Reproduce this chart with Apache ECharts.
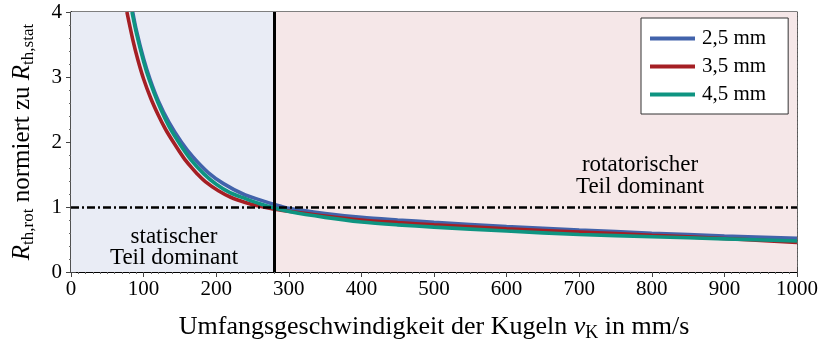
<!DOCTYPE html>
<html>
<head>
<meta charset="utf-8">
<script src="https://cdn.jsdelivr.net/npm/echarts@6/dist/echarts.min.js"></script>
<style>html,body{margin:0;padding:0;background:#fff;}#c{width:822px;height:340px;}</style>
</head>
<body>
<div id="c"></div>
<script>
// ---- data ----
const xTicks = [0,100,200,300,400,500,600,700,800,900,1000];
const yTicks = [0,1,2,3,4];
const seriesNames = ['2,5 mm','3,5 mm','4,5 mm'];
const blueX = [85,90,100,109,120,135,152,168,189,210,237,260,280,300,350,400,450,500,600,700,800,900,1000];
const blueY = [4.0,3.72,3.28,2.96,2.64,2.3,2.0,1.77,1.53,1.36,1.2,1.11,1.04,0.98,0.9,0.84,0.8,0.765,0.70,0.646,0.597,0.555,0.518];
const redX  = [77,85,92,100,110,120,130,142,155,165,173,185,203,220,240,260,280,300,350,400,450,500,600,700,800,900,1000];
const redY  = [4.0,3.58,3.27,2.97,2.67,2.42,2.2,1.98,1.76,1.62,1.52,1.39,1.25,1.15,1.07,1.01,0.965,0.935,0.86,0.80,0.76,0.725,0.665,0.615,0.565,0.515,0.455];
const greenX = [84,90,100,108,120,135,151,165,183,200,219,240,260,280,300,350,400,450,500,600,700,800,900,1000];
const greenY = [4.0,3.68,3.24,2.95,2.6,2.24,1.95,1.73,1.51,1.35,1.22,1.13,1.05,0.985,0.93,0.84,0.77,0.725,0.69,0.63,0.578,0.542,0.51,0.477];
const boundaryX = 280;
const refY = 1;
const leftText = 'statischer\nTeil dominant';
const rightText = 'rotatorischer\nTeil dominant';

const colors = ['#4263ab','#a51f24','#0e9481'];
const SERIF = '"Liberation Serif","DejaVu Serif",serif';

function pairs(xs, ys){ return xs.map((x,i)=>[x, ys[i]]); }

const chart = echarts.init(document.getElementById('c'), null, {renderer:'canvas'});
const gridLine = {show:true, lineStyle:{color:'#555', type:[1,3], width:1}};

const option = {
  animation:false,
  backgroundColor:'#fff',
  grid:{left:71, right:25, top:12, bottom:68, containLabel:false, outerBoundsMode:'none',
        show:true, borderColor:'#000', borderWidth:1.2, backgroundColor:'transparent'},
  legend:{
    data:seriesNames,
    orient:'vertical',
    left:641, top:18,
    backgroundColor:'#fff',
    borderColor:'#333', borderWidth:1,
    padding:[10,22,9,9],
    itemWidth:45, itemHeight:4, itemGap:7,
    icon:'rect',
    textStyle:{fontFamily:SERIF, fontSize:21, color:'#000', lineHeight:20, padding:[0,0,0,2]}
  },
  xAxis:[{
    type:'value', min:xTicks[0], max:xTicks[xTicks.length-1], interval:100,
    axisLine:{show:true, lineStyle:{color:'#000', width:1.2}},
    axisTick:{show:true, inside:true, length:5, lineStyle:{color:'#444'}},
    minorTick:{show:true, splitNumber:10, length:2, lineStyle:{color:'#666'}},
    axisLabel:{fontFamily:SERIF, color:'#000', fontSize:21, margin:7, formatter:v=>String(v)},
    splitLine:gridLine,
    name:'{n|Umfangsgeschwindigkeit der Kugeln }{i|v}{s|K}{n| in mm/s}',
    nameLocation:'middle', nameGap:40,
    nameTextStyle:{fontFamily:SERIF, color:'#000', fontSize:26,
      rich:{n:{fontFamily:SERIF,fontSize:26,color:'#000'}, i:{fontFamily:SERIF,fontSize:26,fontStyle:'italic',color:'#000'}, s:{fontFamily:SERIF,fontSize:18,color:'#000',padding:[12,0,0,0]}}}
  },{
    type:'value', position:'top', min:0, max:1000, interval:100,
    axisLine:{show:true, lineStyle:{color:'#000', width:1.2}},
    axisTick:{show:true, inside:true, length:5, lineStyle:{color:'#444'}},
    minorTick:{show:true, splitNumber:10, length:2, lineStyle:{color:'#666'}},
    axisLabel:{show:false}, splitLine:{show:false}
  }],
  yAxis:[{
    type:'value', min:yTicks[0], max:yTicks[yTicks.length-1], interval:1,
    axisLine:{show:true, lineStyle:{color:'#000', width:1.2}},
    axisTick:{show:true, inside:true, length:5, lineStyle:{color:'#444'}},
    minorTick:{show:true, splitNumber:5, length:2, lineStyle:{color:'#666'}},
    axisLabel:{fontFamily:SERIF, color:'#000', fontSize:21, margin:9, formatter:v=>String(v)},
    splitLine:gridLine,
    name:'{r|R}{s|th,rot}{n| normiert zu }{r|R}{s|th,stat}',
    nameLocation:'middle', nameGap:34, nameRotate:90,
    nameTextStyle:{fontFamily:SERIF, color:'#000', fontSize:25,
      rich:{n:{fontFamily:SERIF,fontSize:25,color:'#000'}, r:{fontFamily:SERIF,fontSize:25,fontStyle:'italic',color:'#000'}, s:{fontFamily:SERIF,fontSize:17,color:'#000',padding:[12,0,0,0]}}}
  },{
    type:'value', position:'right', min:0, max:4, interval:1,
    axisLine:{show:true, lineStyle:{color:'#000', width:1.2}},
    axisTick:{show:true, inside:true, length:5, lineStyle:{color:'#444'}},
    minorTick:{show:true, splitNumber:5, length:2, lineStyle:{color:'#666'}},
    axisLabel:{show:false}, splitLine:{show:false}
  }],
  series:[
    {
      name:'bg', type:'line', data:[], silent:true, z:0,
      markArea:{silent:true, itemStyle:{opacity:1},
        data:[
          [{xAxis:xTicks[0], yAxis:yTicks[0], itemStyle:{color:'#e9ecf5'}},{xAxis:boundaryX, yAxis:yTicks[yTicks.length-1]}],
          [{xAxis:boundaryX, yAxis:yTicks[0], itemStyle:{color:'#f5e7e8'}},{xAxis:xTicks[xTicks.length-1], yAxis:yTicks[yTicks.length-1]}]
        ]}
    },
    {
      name:'refs', type:'line', data:[], silent:true, z:5,
      markLine:{silent:true, symbol:['none','none'], label:{show:false},
        data:[
          {yAxis:refY, lineStyle:{color:'#000', width:2.5, type:[8,3,2,3]}},
          {xAxis:boundaryX, lineStyle:{color:'#000', width:3, type:'solid'}}
        ]}
    },
    {name:seriesNames[0], type:'line', data:pairs(blueX,blueY), smooth:0.3, showSymbol:false, symbol:'none', lineStyle:{width:3.6, color:colors[0]}, itemStyle:{color:colors[0]}, z:3},
    {name:seriesNames[1], type:'line', data:pairs(redX,redY), smooth:0.3, showSymbol:false, symbol:'none', lineStyle:{width:3.6, color:colors[1]}, itemStyle:{color:colors[1]}, z:3},
    {name:seriesNames[2], type:'line', data:pairs(greenX,greenY), smooth:0.3, showSymbol:false, symbol:'none', lineStyle:{width:3.6, color:colors[2]}, itemStyle:{color:colors[2]}, z:3}
  ],
  graphic:[
    {type:'text', x:174, y:226, z:10, style:{text:leftText, fontFamily:SERIF, fontSize:23, fill:'#000', align:'center', lineHeight:21}},
    {type:'text', x:640, y:154, z:10, style:{text:rightText, fontFamily:SERIF, fontSize:23, fill:'#000', align:'center', lineHeight:22}}
  ]
};
chart.setOption(option);
</script>
</body>
</html>
